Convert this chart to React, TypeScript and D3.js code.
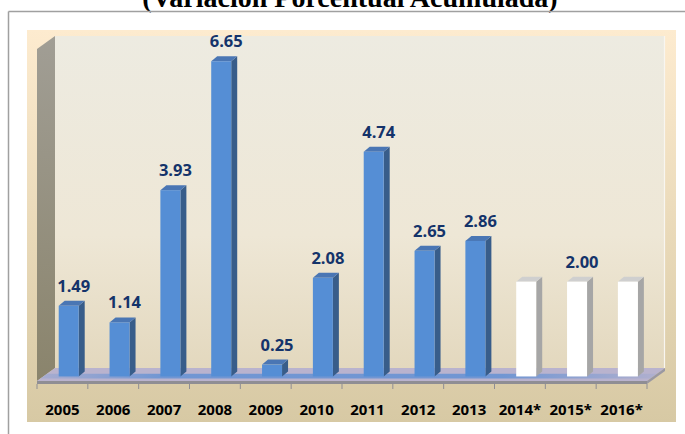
import React from 'react';
import * as d3 from 'd3';

const categories = ['2005', '2006', '2007', '2008', '2009', '2010', '2011', '2012', '2013', '2014*', '2015*', '2016*'];
const values = [1.49, 1.14, 3.93, 6.65, 0.25, 2.08, 4.74, 2.65, 2.86, 2.0, 2.0, 2.0];
const kinds = ['real', 'real', 'real', 'real', 'real', 'real', 'real', 'real', 'real', 'proy', 'proy', 'proy'];
const valueLabels = ['1.49', '1.14', '3.93', '6.65', '0.25', '2.08', '4.74', '2.65', '2.86', '', '2.00', ''];
const title = '(Variación Porcentual Acumulada)';

const W = 685;
const H = 434;

export default function App() {
  const frontY = 381;
  const depthX = 18;
  const depthY = -13;
  const x = d3.scaleBand<string>().domain(categories).range([37, 647]).padding(0);
  const bw = x.bandwidth();
  const t = 0.35;
  const baseY = frontY + depthY * t;
  const shiftX = depthX * t;
  const y = d3.scaleLinear().domain([0, 7]).range([baseY, baseY - 7 * 47.4]);
  const barW = 20;
  const bdx = 6;
  const bdy = -5;

  const left = 37;
  const right = 647;
  const backTop = 36;
  const backY = frontY + depthY;

  const ticks = categories.map((c) => x(c) as number).concat([right]);

  return (
    <svg width={W} height={H} style={{ position: 'absolute', left: 0, top: 0 }}>
      <defs>
        <linearGradient id="bg" x1="0" y1="0" x2="0" y2="1">
          <stop offset="0" stopColor="#FDEBCF" />
          <stop offset="1" stopColor="#D7C9A4" />
        </linearGradient>
        <linearGradient id="wall" x1="0" y1="0" x2="0" y2="1">
          <stop offset="0" stopColor="#EDEBE1" />
          <stop offset="0.6" stopColor="#EEE7D6" />
          <stop offset="1" stopColor="#E3D8BE" />
        </linearGradient>
        <linearGradient id="lwall" x1="0" y1="0" x2="0" y2="1">
          <stop offset="0" stopColor="#A19E95" />
          <stop offset="1" stopColor="#8A846C" />
        </linearGradient>
        <linearGradient id="floorBand" x1="0" y1="0" x2="1" y2="0">
          <stop offset="0" stopColor="#5F8FD4" stopOpacity="0.2" />
          <stop offset="0.2" stopColor="#5F8FD4" stopOpacity="0.8" />
          <stop offset="0.75" stopColor="#5F8FD4" stopOpacity="0.8" />
          <stop offset="1" stopColor="#5F8FD4" stopOpacity="0.1" />
        </linearGradient>
      </defs>

      <text x={350} y={7} textAnchor="middle" fontFamily="Liberation Serif" fontWeight="bold" fontSize={28} fill="#000">
        {title}
      </text>

      <line x1={8.5} y1={11.5} x2={W} y2={11.5} stroke="#A0A0A0" strokeWidth={1.5} />
      <line x1={8.5} y1={11.5} x2={8.5} y2={H} stroke="#A0A0A0" strokeWidth={1.5} />

      <rect x={27} y={30} width={649} height={392} fill="url(#bg)" />

      <rect x={left + depthX} y={backTop} width={right - left} height={backY - backTop} fill="url(#wall)" />
      <line x1={right + depthX - 0.5} y1={backTop} x2={right + depthX - 0.5} y2={backY} stroke="#F8F6F0" strokeWidth={1.2} />

      <polygon
        points={`${left},${backTop + 13} ${left + depthX},${backTop} ${left + depthX},${backY} ${left},${frontY}`}
        fill="url(#lwall)"
      />

      <polygon
        points={`${left},${frontY} ${right},${frontY} ${right + depthX},${backY} ${left + depthX},${backY}`}
        fill="#B9B3CE"
      />
      <polygon
        points={`${left + depthX * 0.2},${frontY + depthY * 0.2} ${right + depthX * 0.2},${frontY + depthY * 0.2} ${right + depthX * 0.55},${frontY + depthY * 0.55} ${left + depthX * 0.55},${frontY + depthY * 0.55}`}
        fill="url(#floorBand)"
      />
      <rect x={left} y={frontY} width={right - left} height={3} fill="#8F8E94" />
      <polygon
        points={`${right},${frontY} ${right + depthX},${backY} ${right + depthX},${backY + 3} ${right},${frontY + 3}`}
        fill="#9A98A2"
      />
      {ticks.map((tx, i) => (
        <line key={i} x1={tx} y1={frontY + 3} x2={tx} y2={frontY + 8} stroke="#8F8E94" strokeWidth={1} />
      ))}

      {categories.map((c, i) => {
        const x0 = (x(c) as number) + bw / 2 + shiftX - barW / 2;
        const x1 = x0 + barW;
        const yt = y(values[i]);
        const real = kinds[i] === 'real';
        const front = real ? '#558ED5' : '#FFFFFF';
        const side = real ? '#385D8A' : '#A6A6A6';
        const top = real ? '#4A76B4' : '#CFCFCF';
        return (
          <g key={c}>
            <polygon points={`${x1},${yt} ${x1 + bdx},${yt + bdy} ${x1 + bdx},${baseY + bdy} ${x1},${baseY}`} fill={side} />
            <polygon points={`${x0},${yt} ${x0 + bdx},${yt + bdy} ${x1 + bdx},${yt + bdy} ${x1},${yt}`} fill={top} />
            <rect x={x0} y={yt} width={barW} height={baseY - yt} fill={front} />
          </g>
        );
      })}

      {categories.map((c, i) =>
        valueLabels[i] ? (
          <text
            key={'v' + c}
            x={(x(c) as number) + bw / 2 + shiftX + 5}
            y={y(values[i]) - 14}
            textAnchor="middle"
            fontFamily="Open Sans"
            fontWeight="bold"
            fontSize={16.5}
            fill="#14336A"
          >
            {valueLabels[i]}
          </text>
        ) : null
      )}

      {categories.map((c) => (
        <text
          key={'c' + c}
          x={(x(c) as number) + bw / 2}
          y={415}
          textAnchor="middle"
          fontFamily="Open Sans"
          fontWeight="bold"
          fontSize={15}
          fill="#000"
        >
          {c}
        </text>
      ))}
    </svg>
  );
}
